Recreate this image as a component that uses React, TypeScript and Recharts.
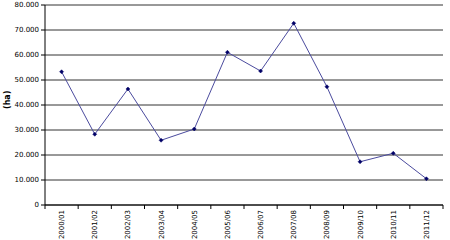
import { LineChart, Line, XAxis, YAxis, CartesianGrid } from 'recharts';

const seasons = [
  '2000/01', '2001/02', '2002/03', '2003/04', '2004/05', '2005/06',
  '2006/07', '2007/08', '2008/09', '2009/10', '2010/11', '2011/12',
];
const hectares = [53300, 28300, 46400, 25900, 30400, 61100, 53600, 72700, 47300, 17300, 20700, 10500];
const yTicks = [0, 10000, 20000, 30000, 40000, 50000, 60000, 70000, 80000];

const data = seasons.map((s, i) => ({ season: s, ha: hectares[i] }));

const FONT = '"DejaVu Sans", Verdana, sans-serif';
const PLOT_W = 398;

const fmt = (v: number) => (v === 0 ? '0' : `${v / 1000}.000`);

function SeasonTick(props: any) {
  const { x, y, payload, index } = props;
  const bw = PLOT_W / seasons.length;
  return (
    <g>
      <line x1={x - bw / 2} x2={x - bw / 2} y1={y} y2={y + 4} stroke="#000" />
      {index === seasons.length - 1 && (
        <line x1={x + bw / 2} x2={x + bw / 2} y1={y} y2={y + 4} stroke="#000" />
      )}
      <text
        x={x}
        y={y}
        transform={`rotate(-90 ${x} ${y})`}
        dx={-5}
        dy={2.5}
        textAnchor="end"
        fontSize={7}
        fontFamily={FONT}
        fill="#000"
      >
        {payload.value}
      </text>
    </g>
  );
}

function Diamond(props: any) {
  const { cx, cy } = props;
  if (cx == null || cy == null) return null;
  const r = 2;
  return (
    <polygon
      points={`${cx},${cy - r} ${cx + r},${cy} ${cx},${cy + r} ${cx - r},${cy}`}
      fill="#000066"
      stroke="#000066"
      strokeWidth={0.5}
    />
  );
}

export default function App() {
  return (
    <div style={{ width: 450, height: 240, background: '#fff' }}>
      <style>{'body{margin:0}'}</style>
      <LineChart width={450} height={240} data={data} margin={{ top: 5, right: 7, bottom: 0, left: 0 }}>
        <CartesianGrid vertical={false} stroke="#333" strokeWidth={1} />
        <XAxis
          dataKey="season"
          scale="band"
          height={35}
          interval={0}
          tickLine={false}
          axisLine={{ stroke: '#000' }}
          tick={<SeasonTick />}
          tickMargin={0}
          tickSize={0}
        />
        <XAxis xAxisId="top" orientation="top" dataKey="season" scale="band" height={0} tick={false} tickLine={false} axisLine={{ stroke: '#999' }} />
        <YAxis
          domain={[0, 80000]}
          ticks={yTicks}
          interval={0}
          width={45}
          tickSize={4}
          tickLine={{ stroke: '#000' }}
          axisLine={{ stroke: '#000' }}
          tick={{ fontSize: 7, fontFamily: FONT, fill: '#000' }}
          tickFormatter={fmt}
          label={{ value: '(ha)', angle: -90, position: 'insideLeft', offset: 7, dy: 4, fontSize: 8, fontWeight: 'bold', fontFamily: FONT, fill: '#000' }}
        />
        <YAxis yAxisId="right" orientation="right" width={0} tick={false} tickLine={false} axisLine={{ stroke: '#999' }} />
        <Line
          dataKey="ha"
          stroke="#4b4b9e"
          strokeWidth={1}
          dot={<Diamond />}
          activeDot={false}
          isAnimationActive={false}
        />
      </LineChart>
    </div>
  );
}
